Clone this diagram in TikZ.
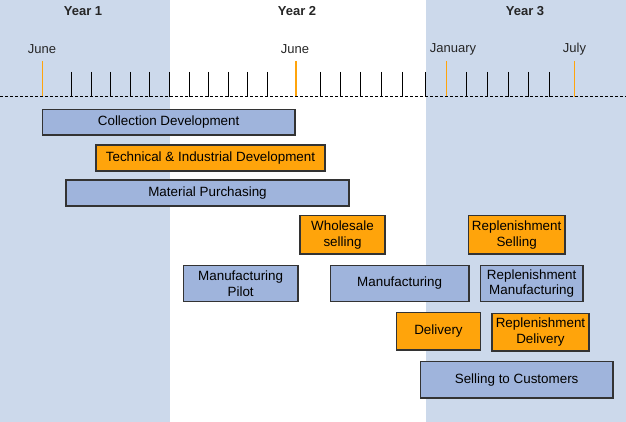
\documentclass[tikz,border=0pt]{standalone}
\usepackage{fontspec}
\setmainfont{Liberation Sans}
\usepackage{xcolor}
\usetikzlibrary{positioning}
\definecolor{yearshade}{HTML}{CCD9EB}
\definecolor{barblue}{HTML}{9FB4DC}
\definecolor{barorange}{HTML}{FFA40B}
\definecolor{barline}{HTML}{333333}
\tikzstyle{bar} = [draw=barline,line width=1.3pt,inner sep=0pt,align=center,font=\fontsize{13.4}{15.7}\selectfont]
\tikzstyle{bluebar} = [bar,fill=barblue]
\tikzstyle{orangebar} = [bar,fill=barorange]
\tikzstyle{month} = [font=\fontsize{13}{15}\selectfont,text=black!85]
\tikzstyle{year} = [font=\fontsize{13}{15}\selectfont\bfseries,text=black!85]

\begin{document}
\begin{tikzpicture}[x=1pt,y=-1pt]
            \useasboundingbox (0,0) rectangle (626,422);
            \fill[yearshade] (0,0) rectangle (170,422);
            \fill[yearshade] (426,0) rectangle (626,422);
            \node[year] (year1) at (83,11) {Year 1};
            \node[year] (year2) at (297,11) {Year 2};
            \node[year] (year3) at (525,11) {Year 3};
            \node[month] (june1) at (42,49) {June};
            \node[month] (june2) at (295,49) {June};
            \node[month] (jan) at (453,49) {January};
            \node[month] (july) at (574.5,49) {July};
            \foreach \x in {71.5,91.5,110.5,130.5,149.5,169.5,189.5,208.5,228.5,247.5,267.5,320.5,340.5,360.5,381.5,402.5,425.5,466.5,487.5,508.5,528.5,549.5}
                \draw[line width=1.4pt] (\x,72) -- (\x,97);
            \foreach \x in {42.5,296,446.5,574.5}
                \draw[barorange,line width=1.6pt] (\x,61) -- (\x,97);
            \draw[line width=1pt,dash pattern=on 3pt off 2pt] (0,97) -- (626,97);
            \node[bluebar,minimum width=252.7,minimum height=25.7] (colldev) at (168.65,122.15) {Collection Development};
            \node[orangebar,minimum width=229,minimum height=26] (techdev) at (210.5,158) {Technical \& Industrial Development};
            \node[bluebar,minimum width=283,minimum height=26] (matpurch) at (207.5,193) {Material Purchasing};
            \node[orangebar,minimum width=85,minimum height=38.3] (wholesale) at (342.5,234.85) {Wholesale\\selling};
            \node[orangebar,minimum width=96.7,minimum height=38.3] (replsell) at (516.65,234.85) {Replenishment\\Selling};
            \node[bluebar,minimum width=114.7,minimum height=36.4] (mfgpilot) at (240.65,283.5) {Manufacturing\\Pilot};
            \node[bluebar,minimum width=138.7,minimum height=36.4] (mfg) at (399.65,283.5) {Manufacturing};
            \node[bluebar,minimum width=102.7,minimum height=36.4] (replmfg) at (531.65,283.5) {Replenishment\\Manufacturing};
            \node[orangebar,minimum width=84.4,minimum height=37.7] (delivery) at (438.5,331.15) {Delivery};
            \node[orangebar,minimum width=97,minimum height=37.3] (repldel) at (540.5,332.35) {Replenishment\\Delivery};
            \node[bluebar,minimum width=192.7,minimum height=36.3] (sellcust) at (516.65,379.85) {Selling to Customers};
        \end{tikzpicture}
\end{document}
